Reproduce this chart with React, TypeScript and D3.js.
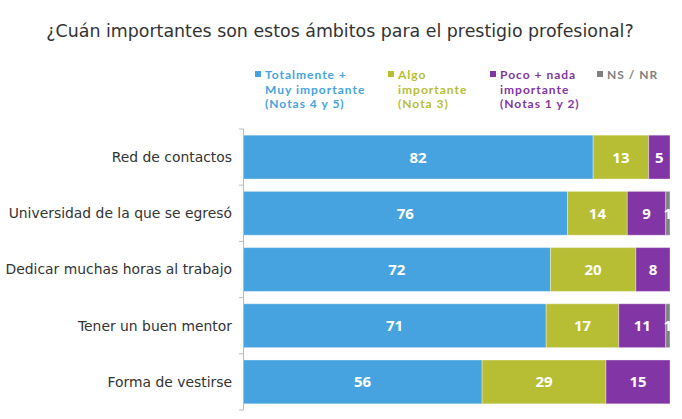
import React from "react";
import * as d3 from "d3";

const categories = [
  "Red de contactos",
  "Universidad de la que se egresó",
  "Dedicar muchas horas al trabajo",
  "Tener un buen mentor",
  "Forma de vestirse",
];
const muyImportante = [82, 76, 72, 71, 56];
const algoImportante = [13, 14, 20, 17, 29];
const pocoNada = [5, 9, 8, 11, 15];
const nsnr = [0, 1, 0, 1, 0];

const seriesNames = ["muy", "algo", "poco", "ns"];
const seriesColors = ["#46A3DF", "#B7BE33", "#8236A5", "#808080"];
const legendLines = [
  ["Totalmente +", "Muy importante", "(Notas 4 y 5)"],
  ["Algo", "importante", "(Nota 3)"],
  ["Poco + nada", "importante", "(Notas 1 y 2)"],
  ["NS / NR"],
];
const legendTextColors = ["#46A3DF", "#B7BE33", "#8236A5", "#808080"];
const title = "¿Cuán importantes son estos ámbitos para el prestigio profesional?";

const W = 682;
const H = 419;

export default function App() {
  const rows = categories.map((c, i) => ({
    cat: c,
    muy: muyImportante[i],
    algo: algoImportante[i],
    poco: pocoNada[i],
    ns: nsnr[i],
  }));
  const stack = d3.stack<any>().keys(seriesNames)(rows);
  const x = d3.scaleLinear().domain([0, 100]).range([243, 670]);
  const y = d3
    .scaleBand()
    .domain(categories)
    .range([129, 410])
    .paddingInner(0.22)
    .paddingOuter(0.11);
  const tickYs = categories.map((c) => (y(c) as number) - (y.step() * y.paddingInner()) / 2);
  tickYs.push(410);
  const legendX = [255, 388, 490, 597];

  return (
    <svg width={W} height={H} style={{ position: "absolute", left: 0, top: 0 }}>
      <rect width={W} height={H} fill="#fff" />
      <text
        x={340}
        y={37}
        textAnchor="middle"
        fontFamily="DejaVu Sans"
        fontSize={17.4}
        fill="#333"
      >
        {title}
      </text>
      {legendLines.map((lines, i) => (
        <g key={i}>
          <rect x={legendX[i]} y={71} width={6} height={6} fill={seriesColors[i]} />
          {lines.map((l, j) => (
            <text
              key={j}
              x={legendX[i] + 10}
              y={79 + j * 14.5}
              fontFamily="Lato"
              fontWeight={700}
              fontSize={12}
              letterSpacing={1}
              fill={legendTextColors[i]}
            >
              {l}
            </text>
          ))}
        </g>
      ))}
      {stack.map((s, si) => (
        <g key={si}>
          {s.map((d: any, di: number) => {
            const w = x(d[1]) - x(d[0]);
            if (w <= 0) return null;
            const yy = y(categories[di]) as number;
            return (
              <g key={di}>
                <rect
                  x={x(d[0])}
                  y={yy}
                  width={w}
                  height={y.bandwidth()}
                  fill={seriesColors[si]}
                  stroke="rgba(255,255,255,0.35)"
                  strokeWidth={1}
                />
                <text
                  x={(x(d[0]) + x(d[1])) / 2}
                  y={yy + y.bandwidth() / 2}
                  dy="0.36em"
                  textAnchor="middle"
                  fontFamily="Open Sans"
                  fontWeight={700}
                  fontSize={15}
                  fill="#fff"
                >
                  {d[1] - d[0]}
                </text>
              </g>
            );
          })}
        </g>
      ))}
      <line x1={243.5} x2={243.5} y1={129} y2={410} stroke="#bbb" />
      {tickYs.map((t, i) => (
        <line key={i} x1={239} x2={243.5} y1={t} y2={t} stroke="#bbb" />
      ))}
      {categories.map((c) => (
        <text
          key={c}
          x={232}
          y={(y(c) as number) + y.bandwidth() / 2}
          dy="0.35em"
          textAnchor="end"
          fontFamily="DejaVu Sans"
          fontSize={13.9}
          fill="#333"
        >
          {c}
        </text>
      ))}
    </svg>
  );
}
